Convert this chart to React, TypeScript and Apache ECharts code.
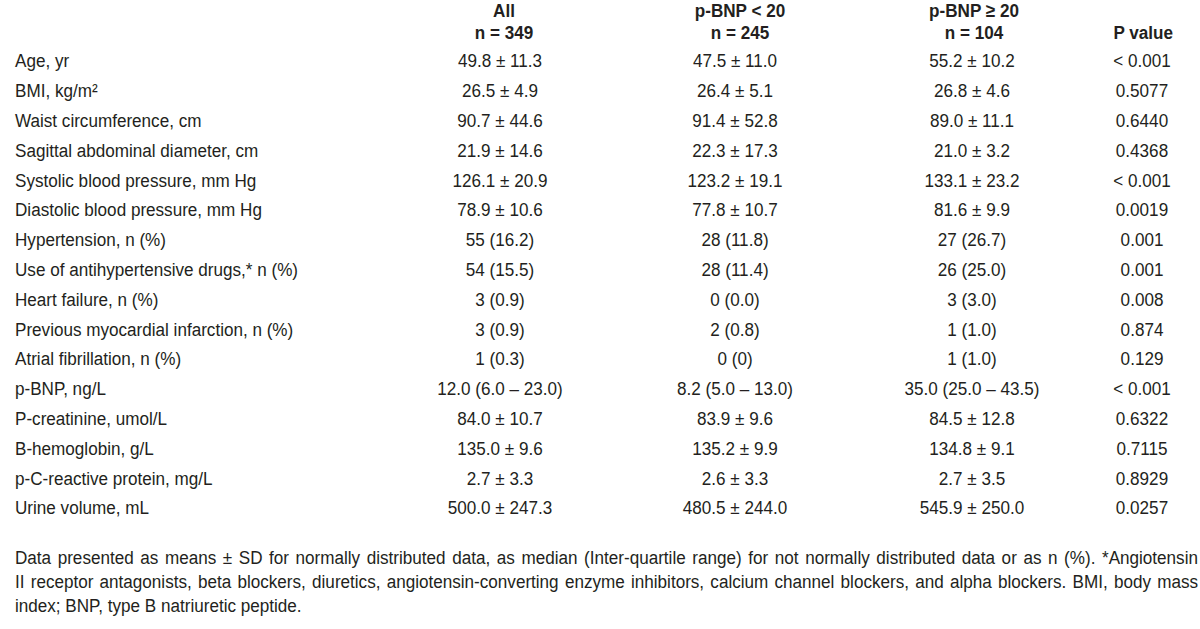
import React, { useEffect, useRef } from "react";
import * as echarts from "echarts";

const rowLabels = [
  "Age, yr",
  "BMI, kg/m\u00b2",
  "Waist circumference, cm",
  "Sagittal abdominal diameter, cm",
  "Systolic blood pressure, mm Hg",
  "Diastolic blood pressure, mm Hg",
  "Hypertension, n (%)",
  "Use of antihypertensive drugs,* n (%)",
  "Heart failure, n (%)",
  "Previous myocardial infarction, n (%)",
  "Atrial fibrillation, n (%)",
  "p-BNP, ng/L",
  "P-creatinine, umol/L",
  "B-hemoglobin, g/L",
  "p-C-reactive protein, mg/L",
  "Urine volume, mL",
];

const allValues = [
  "49.8 ± 11.3", "26.5 ± 4.9", "90.7 ± 44.6", "21.9 ± 14.6", "126.1 ± 20.9",
  "78.9 ± 10.6", "55 (16.2)", "54 (15.5)", "3 (0.9)", "3 (0.9)", "1 (0.3)",
  "12.0 (6.0 – 23.0)", "84.0 ± 10.7", "135.0 ± 9.6", "2.7 ± 3.3", "500.0 ± 247.3",
];

const lowValues = [
  "47.5 ± 11.0", "26.4 ± 5.1", "91.4 ± 52.8", "22.3 ± 17.3", "123.2 ± 19.1",
  "77.8 ± 10.7", "28 (11.8)", "28 (11.4)", "0 (0.0)", "2 (0.8)", "0 (0)",
  "8.2 (5.0 – 13.0)", "83.9 ± 9.6", "135.2 ± 9.9", "2.6 ± 3.3", "480.5 ± 244.0",
];

const highValues = [
  "55.2 ± 10.2", "26.8 ± 4.6", "89.0 ± 11.1", "21.0 ± 3.2", "133.1 ± 23.2",
  "81.6 ± 9.9", "27 (26.7)", "26 (25.0)", "3 (3.0)", "1 (1.0)", "1 (1.0)",
  "35.0 (25.0 – 43.5)", "84.5 ± 12.8", "134.8 ± 9.1", "2.7 ± 3.5", "545.9 ± 250.0",
];

const pValues = [
  "< 0.001", "0.5077", "0.6440", "0.4368", "< 0.001", "0.0019", "0.001", "0.001",
  "0.008", "0.874", "0.129", "< 0.001", "0.6322", "0.7115", "0.8929", "0.0257",
];

const headerLine1 = ["All", "p-BNP < 20", "p-BNP ≥ 20", ""];
const headerLine2 = ["n = 349", "n = 245", "n = 104", "P value"];

const footnoteLines = [
  "Data presented as means ± SD for normally distributed data, as median (Inter-quartile range) for not normally distributed data or as n (%). *Angiotensin",
  "II receptor antagonists, beta blockers, diuretics, angiotensin-converting enzyme inhibitors, calcium channel blockers, and alpha blockers. BMI, body mass",
  "index; BNP, type B natriuretic peptide.",
];

const FONT = '"Liberation Sans", Arial, sans-serif';
const COLOR = "#231f20";

export default function App() {
  const ref = useRef<HTMLDivElement>(null);
  useEffect(() => {
    if (!ref.current) return;
    const chart = echarts.init(ref.current, undefined, { renderer: "svg" });
    const els: any[] = [];
    const fs = 19;
    const sx = 0.9;
    const rowY0 = 61;
    const rowStep = 29.8;
    const colCenters = [500, 735, 972];
    const headerCenters = [504, 740, 974];

    const txt = (x: number, y: number, s: string, align: string, bold = false, size = fs, scale = sx) => ({
      type: "text",
      x,
      y,
      scaleX: scale,
      style: {
        text: s,
        fill: COLOR,
        font: `${bold ? "bold " : ""}${size}px ${FONT}`,
        textAlign: align,
        textVerticalAlign: "middle",
      },
    });

    headerLine1.forEach((h, i) => {
      if (h && i < 3) els.push(txt(headerCenters[i], 11, h, "center", true));
    });
    headerLine2.forEach((h, i) => {
      if (i < 3) els.push(txt(headerCenters[i], 33, h, "center", true));
      else els.push(txt(1173, 33, h, "right", true));
    });

    rowLabels.forEach((lab, i) => {
      const y = rowY0 + i * rowStep;
      els.push(txt(15, y, lab, "left"));
      els.push(txt(colCenters[0], y, allValues[i], "center"));
      els.push(txt(colCenters[1], y, lowValues[i], "center"));
      els.push(txt(colCenters[2], y, highValues[i], "center"));
      els.push(txt(1142, y, pValues[i], "center"));
    });

    // footnote, justified
    const ffs = 19;
    const canvas = document.createElement("canvas");
    const ctx = canvas.getContext("2d")!;
    ctx.font = `${ffs}px ${FONT}`;
    const left = 15;
    const right = 1198;
    footnoteLines.forEach((line, li) => {
      const y = 558 + li * 24;
      if (li === footnoteLines.length - 1) {
        els.push(txt(left, y, line, "left", false, ffs));
        return;
      }
      const words = line.split(" ");
      const widths = words.map((w) => ctx.measureText(w).width * sx);
      const total = widths.reduce((a, b) => a + b, 0);
      const gap = (right - left - total) / (words.length - 1);
      let x = left;
      words.forEach((w, wi) => {
        els.push(txt(x, y, w, "left", false, ffs));
        x += widths[wi] + gap;
      });
    });

    chart.setOption({
      animation: false,
      backgroundColor: "#ffffff",
      graphic: { elements: els },
    });
    return () => chart.dispose();
  }, []);
  return <div ref={ref} style={{ width: 1200, height: 629, position: "absolute", left: 0, top: 0 }} />;
}
